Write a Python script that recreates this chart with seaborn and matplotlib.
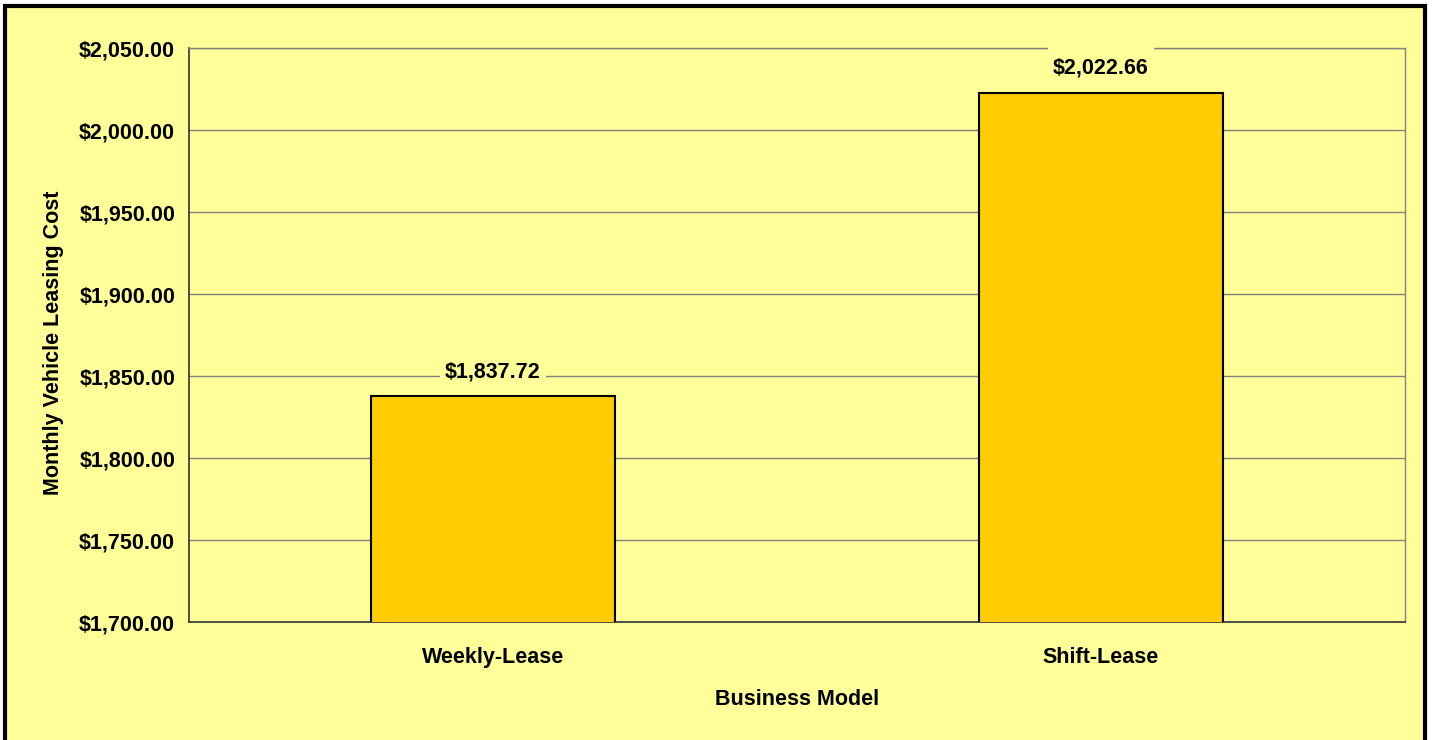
import matplotlib
matplotlib.use("Agg")
import matplotlib.pyplot as plt
import seaborn as sns
import pandas as pd
from matplotlib.patches import Rectangle

categories = ["Weekly-Lease", "Shift-Lease"]
costs = [1837.72, 2022.66]
y_ticks = [1700, 1750, 1800, 1850, 1900, 1950, 2000, 2050]
x_label = "Business Model"
y_label = "Monthly Vehicle Leasing Cost"

YELLOW = "#FFFF99"
BAR = "#FFCC00"

sns.set_style("white")
plt.rcParams['font.family'] = ['Liberation Sans', 'DejaVu Sans']
plt.rcParams['font.weight'] = 'bold'
plt.rcParams['text.color'] = 'black'
plt.rcParams['axes.labelcolor'] = 'black'
plt.rcParams['xtick.color'] = 'black'
plt.rcParams['ytick.color'] = 'black'

fig = plt.figure(figsize=(14.32, 7.40), dpi=100)
fig.patch.set_facecolor("white")
fig.patches.append(Rectangle((5/1432, -0.02), 1420/1432, 1.02 - 6/740,
                             transform=fig.transFigure, facecolor=YELLOW,
                             edgecolor="black", linewidth=3, zorder=-10))

ax = fig.add_axes([189/1432, 1 - 622/740, (1405 - 189)/1432, (622 - 48)/740])
ax.set_facecolor(YELLOW)

df = pd.DataFrame({"model": categories, "cost": costs})
sns.barplot(data=df, x="model", y="cost", color=BAR, width=0.4,
            edgecolor="black", linewidth=1.5, saturation=1, ax=ax, zorder=3)

ax.set_ylim(1700, 2050)
ax.set_yticks(y_ticks)
ax.set_yticklabels([f"${v:,.2f}" for v in y_ticks], fontsize=15.5, fontweight="bold")
ax.set_xlim(-0.5, 1.5)
ax.set_xticks(range(len(categories)))
ax.set_xticklabels(categories, fontsize=15.5, fontweight="bold")
ax.set_xticks([-0.5, 0.5, 1.5], minor=True)
ax.tick_params(axis="x", which="major", length=0, pad=18)
ax.tick_params(axis="x", which="minor", length=6, width=1, color="#333333", direction="out")
ax.tick_params(axis="y", length=6, width=1, color="#333333", direction="out", pad=4)

ax.yaxis.grid(True, color="#808080", linewidth=1, zorder=0)
ax.set_axisbelow(True)

for s in ["top", "right"]:
    ax.spines[s].set_color("#808080")
    ax.spines[s].set_linewidth(1)
for s in ["left", "bottom"]:
    ax.spines[s].set_color("#333333")
    ax.spines[s].set_linewidth(1.2)

ax.set_xlabel(x_label, fontsize=15.5, fontweight="bold", labelpad=15)
ax.set_ylabel(y_label, fontsize=15.5, fontweight="bold", labelpad=11)
ax.yaxis.label.set_y(0.486)

for c in ax.containers:
    texts = ax.bar_label(c, labels=["\n" + f"${v:,.2f}" for v in costs], padding=10,
                         fontsize=15.5, fontweight="bold", color="black",
                         linespacing=1.0,
                         bbox=dict(facecolor=YELLOW, edgecolor="none", pad=4))
    for t in texts:
        t.set_zorder(4)

fig.savefig("out.png", dpi=100, facecolor=fig.get_facecolor())
